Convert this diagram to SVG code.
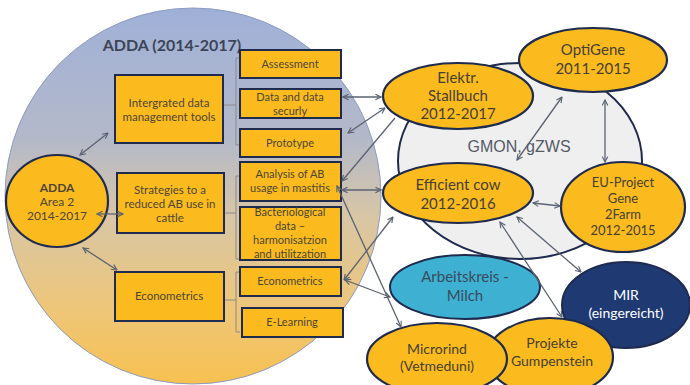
<svg xmlns="http://www.w3.org/2000/svg" width="690" height="385" viewBox="0 0 690 385">
<defs>
<linearGradient id="bg" x1="0" y1="0" x2="0" y2="1">
<stop offset="0" stop-color="#9fb0d8"/>
<stop offset="0.35" stop-color="#b4b9c9"/>
<stop offset="0.55" stop-color="#d7c6a6"/>
<stop offset="0.8" stop-color="#eec679"/>
<stop offset="1" stop-color="#f7c150"/>
</linearGradient>
<marker id="ah" viewBox="0 0 10 10" refX="9" refY="5" markerWidth="7" markerHeight="7" orient="auto-start-reverse" markerUnits="userSpaceOnUse">
<path d="M1,1 L9,5 L1,9" fill="none" stroke="#5a6272" stroke-width="1.6"/>
</marker>
<style>
.box{fill:#fbbb1e;stroke:#1e2a4e;stroke-width:2}
.ell{fill:#fbbb1e;stroke:#1e2a4e;stroke-width:2.2}
.bt{font-family:Lato,"Liberation Sans",sans-serif;font-size:11px;fill:#4d4636;text-anchor:middle}
.et{font-family:Lato,"Liberation Sans",sans-serif;font-size:15px;fill:#463f30;text-anchor:middle}
.br{fill:none;stroke:#8a8a8a;stroke-width:1}
.c{fill:none;stroke:#5a6272;stroke-width:1.3;marker-start:url(#ah);marker-end:url(#ah)}
.c1{fill:none;stroke:#5a6272;stroke-width:1.3;marker-end:url(#ah)}
</style>
</defs>
<rect width="690" height="385" fill="#ffffff"/>

<g id="adda-main">
<circle cx="193" cy="196" r="188" fill="url(#bg)" stroke="#8d9cc0" stroke-width="1"/>
<text x="172" y="51" font-family="Lato,'Liberation Sans',sans-serif" font-size="16" font-weight="bold" fill="#3c4558" text-anchor="middle">ADDA (2014-2017)</text>
</g>

<g id="gmon">
<ellipse cx="520" cy="161" rx="122" ry="98" fill="#efefef" stroke="#1e2a4e" stroke-width="2"/>
<text x="519" y="152" font-family="'Liberation Sans',Arial,sans-serif" font-size="16" fill="#555a66" text-anchor="middle">GMON, gZWS</text>
</g>

<g id="brackets">
<path class="br" d="M240,58 H236 V145 H240 M224,105 H236"/>
<path class="br" d="M240,176 H236 V259 H240 M225,213 H236"/>
<path class="br" d="M240,272 H236 V332 H240 M225,300 H236"/>
</g>

<g id="adda-area2">
<ellipse cx="57" cy="201" rx="51" ry="46" class="ell"/>
<text x="57" y="192" class="bt" style="font-weight:bold;font-size:12px">ADDA</text>
<text x="57" y="206" class="bt" style="font-size:12px">Area 2</text>
<text x="57" y="220" class="bt" style="font-size:12px">2014-2017</text>
</g>

<g id="box-integrated">
<rect x="115" y="75" width="108" height="68" class="box"/>
<text x="169" y="107" class="bt" style="font-size:11.5px">Intergrated data</text>
<text x="169" y="121" class="bt" style="font-size:11.5px">management tools</text>
</g>
<g id="box-strategies">
<rect x="117" y="173" width="107" height="60" class="box"/>
<text x="170" y="194" class="bt" style="font-size:11.5px">Strategies to a</text>
<text x="170" y="208" class="bt" style="font-size:11.5px">reduced AB use in</text>
<text x="170" y="222" class="bt" style="font-size:11.5px">cattle</text>
</g>
<g id="box-econometrics">
<rect x="115" y="272" width="109" height="49" class="box"/>
<text x="169" y="300" class="bt" style="font-size:11.5px">Econometrics</text>
</g>

<g id="box-assessment">
<rect x="240" y="50" width="101" height="28" class="box"/>
<text x="290" y="68" class="bt">Assessment</text>
</g>
<g id="box-data">
<rect x="240" y="89" width="101" height="29" class="box"/>
<text x="290" y="101" class="bt">Data and data</text>
<text x="290" y="115" class="bt">securly</text>
</g>
<g id="box-prototype">
<rect x="240" y="129" width="101" height="28" class="box"/>
<text x="290" y="147" class="bt">Prototype</text>
</g>
<g id="box-analysis">
<rect x="240" y="162" width="101" height="39" class="box"/>
<text x="290" y="178" class="bt">Analysis of AB</text>
<text x="290" y="192" class="bt">usage in mastitis</text>
</g>
<g id="box-bacterio">
<rect x="240" y="207" width="101" height="53" class="box"/>
<text x="290" y="216" class="bt">Bacteriological</text>
<text x="290" y="230" class="bt">data –</text>
<text x="290" y="244" class="bt">harmonisatzion</text>
<text x="290" y="258" class="bt">and utilitzation</text>
</g>
<g id="box-econometrics2">
<rect x="240" y="267" width="101" height="29" class="box"/>
<text x="290" y="285" class="bt">Econometrics</text>
</g>
<g id="box-elearning">
<rect x="242" y="308" width="101" height="29" class="box"/>
<text x="292" y="326" class="bt">E-Learning</text>
</g>

<g id="elektr">
<ellipse cx="458" cy="96" rx="75" ry="33" class="ell"/>
<text x="458" y="83" class="et">Elektr.</text>
<text x="458" y="101" class="et">Stallbuch</text>
<text x="458" y="119" class="et">2012-2017</text>
</g>
<g id="optigene">
<ellipse cx="593" cy="60" rx="74" ry="32" class="ell"/>
<text x="593" y="55" class="et">OptiGene</text>
<text x="593" y="74" class="et">2011-2015</text>
</g>
<g id="efficient">
<ellipse cx="458" cy="193" rx="75" ry="30" class="ell"/>
<text x="458" y="190" class="et">Efficient cow</text>
<text x="458" y="209" class="et">2012-2016</text>
</g>
<g id="eu-project">
<ellipse cx="623" cy="207" rx="62" ry="45" class="ell"/>
<text x="623" y="187" class="et" style="font-size:13px">EU-Project</text>
<text x="623" y="203" class="et" style="font-size:13px">Gene</text>
<text x="623" y="219" class="et" style="font-size:13px">2Farm</text>
<text x="623" y="235" class="et" style="font-size:13px">2012-2015</text>
</g>
<g id="arbeitskreis">
<ellipse cx="465" cy="287" rx="75" ry="32" fill="#3eb1d3" stroke="#1e2a4e" stroke-width="2"/>
<text x="465" y="282" class="et" style="fill:#3a4a5c">Arbeitskreis -</text>
<text x="465" y="301" class="et" style="fill:#3a4a5c">Milch</text>
</g>
<g id="mir">
<ellipse cx="626" cy="305" rx="64" ry="43" fill="#1f3a72" stroke="#1e2a4e" stroke-width="2"/>
<text x="626" y="300" class="et" style="fill:#ffffff;font-size:14px">MIR</text>
<text x="626" y="318" class="et" style="fill:#ffffff;font-size:14px">(eingereicht)</text>
</g>
<g id="gumpenstein">
<ellipse cx="550" cy="357" rx="63" ry="39" class="ell"/>
<text x="552" y="348" class="et" style="font-size:14px">Projekte</text>
<text x="552" y="366" class="et" style="font-size:14px">Gumpenstein</text>
</g>
<g id="microrind">
<ellipse cx="437" cy="359" rx="70" ry="36" class="ell"/>
<text x="437" y="354" class="et" style="font-size:14px">Microrind</text>
<text x="437" y="371" class="et" style="font-size:14px">(Vetmeduni)</text>
</g>

<g id="connectors">
<path class="c" d="M80,155 L108,133"/>
<path class="c" d="M97,214 L123,214"/>
<path class="c" d="M83,248 L117,270"/>
<path class="c" d="M343,97 L381,97"/>
<path class="c" d="M348,133 L385,108"/>
<path class="c1" d="M395,118 L342,181"/>
<path class="c" d="M342,190 L381,190"/>
<path class="c" d="M344,280 L393,217"/>
<path class="c" d="M345,280 L390,297"/>
<path class="c" d="M337,186 L401,327"/>
<path class="c" d="M562,97 L517,160"/>
<path class="c" d="M605,100 L605,162"/>
<path class="c" d="M533,203 L560,206"/>
<path class="c" d="M500,222 L562,317"/>
<path class="c" d="M517,217 L581,272"/>
</g>
</svg>
